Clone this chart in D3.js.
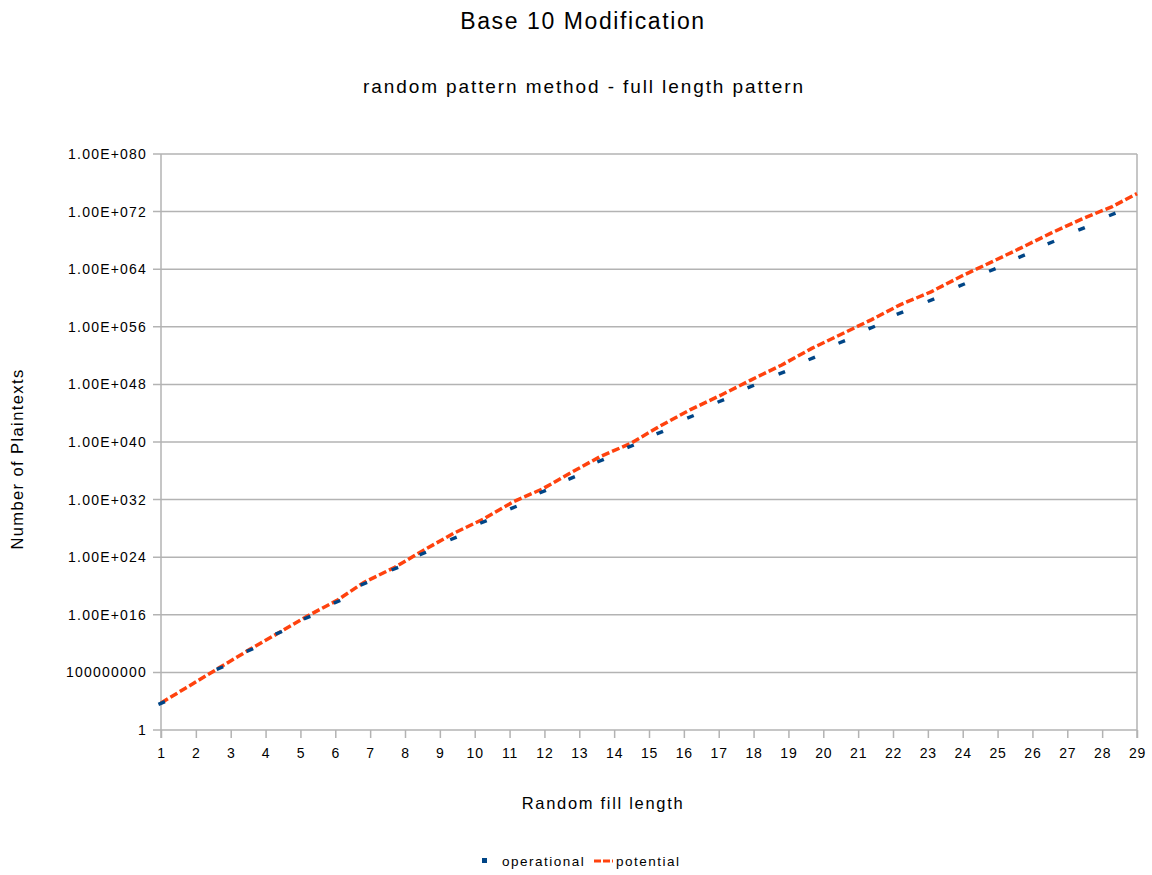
<!DOCTYPE html>
<html>
<head>
<meta charset="utf-8">
<script src="https://cdn.jsdelivr.net/npm/d3@7"></script>
<style>
  body { margin: 0; background: #fff; }
  text { font-family: "Liberation Sans", Arial, sans-serif; fill: #000; }
</style>
</head>
<body>
<script>
// values; y values kept as powers of ten (log10)
const opX   = [1.02, 2.69, 3.55, 4.38, 5.19, 6.05, 6.82, 7.71, 8.51, 9.39, 10.25, 11.11, 11.95, 12.78, 13.61, 14.47,
               15.31, 16.19, 17.06, 17.92, 18.81, 19.67, 20.53, 21.39, 22.2, 23.09, 23.97, 24.85, 25.69, 26.53, 27.41, 28.29];
const opExp = [3.75, 8.6, 11.1, 13.5, 15.6, 17.8, 20.3, 22.4, 24.5, 26.6, 28.9, 30.9, 33.1, 35.0, 37.4, 39.4,
               41.3, 43.5, 45.7, 47.7, 49.6, 51.6, 53.9, 55.9, 57.9, 59.7, 61.8, 63.9, 65.8, 67.7, 69.6, 71.6];

const potX   = [1, 2.69, 3.55, 4.38, 5.19, 6.05, 6.82, 7.71, 8.51, 9.39, 10.25, 11.11, 11.95, 12.78, 13.61, 14.47,
                15.31, 16.19, 17.06, 17.92, 18.81, 19.67, 20.53, 21.39, 22.2, 23.09, 23.97, 24.85, 25.69, 26.53, 27.41, 28.29, 29];
const potExp = [3.75, 8.7, 11.2, 13.5, 15.8, 18.0, 20.5, 22.6, 24.9, 27.3, 29.3, 31.7, 33.5, 35.8, 38.0, 39.8,
                42.2, 44.5, 46.5, 48.6, 50.7, 53.0, 55.0, 57.0, 59.05, 60.85, 63.05, 65.05, 67.0, 69.0, 70.95, 72.7, 74.5];

const xTicks = d3.range(1, 30);
const yTickExp = [0, 8, 16, 24, 32, 40, 48, 56, 64, 72, 80];
const yTickLabels = ["1", "100000000", "1.00E+016", "1.00E+024", "1.00E+032", "1.00E+040",
                     "1.00E+048", "1.00E+056", "1.00E+064", "1.00E+072", "1.00E+080"];

const title = "Base 10 Modification";
const subtitle = "random pattern method - full length pattern";
const xTitle = "Random fill length";
const yTitle = "Number of Plaintexts";
const seriesNames = ["operational", "potential"];
const colors = ["#004586", "#ff420e"];

const W = 1152, H = 875;
const plot = { left: 161, right: 1137, top: 154, bottom: 730 };
const font = "\"Liberation Sans\", Arial, sans-serif";

const svg = d3.select("body").append("svg")
  .attr("width", W)
  .attr("height", H);

const x = d3.scaleLinear().domain([1, 29]).range([plot.left, plot.right]);
const y = d3.scaleLog().domain([1, 1e80]).range([plot.bottom, plot.top]);

// titles
svg.append("text").attr("x", 583).attr("y", 29).attr("text-anchor", "middle")
  .style("font-size", "23px").style("letter-spacing", "1.6px").text(title);
svg.append("text").attr("x", 584).attr("y", 93).attr("text-anchor", "middle")
  .style("font-size", "19px").style("letter-spacing", "1.9px").text(subtitle);

// horizontal grid
svg.append("g")
  .selectAll("line")
  .data(yTickExp)
  .join("line")
  .attr("x1", plot.left - 8)
  .attr("x2", plot.right)
  .attr("y1", d => y(10 ** d))
  .attr("y2", d => y(10 ** d))
  .attr("stroke", "#b3b3b3")
  .attr("stroke-width", 1.5);

// y axis labels
const yAxis = d3.axisLeft(y)
  .tickValues(yTickExp.map(d => 10 ** d))
  .tickFormat((d, i) => yTickLabels[i])
  .tickSize(0)
  .tickPadding(14);
svg.append("g")
  .attr("transform", `translate(${plot.left},0)`)
  .call(yAxis)
  .call(g => g.select(".domain").remove())
  .call(g => g.selectAll("text").style("font-size", "14px").style("letter-spacing", "1.2px")
    .attr("fill", "#000").style("font-family", font));

// x axis
const xAxis = d3.axisBottom(x)
  .tickValues(xTicks)
  .tickFormat(d3.format("d"))
  .tickSize(8)
  .tickPadding(10);
svg.append("g")
  .attr("transform", `translate(0,${plot.bottom})`)
  .call(xAxis)
  .call(g => g.select(".domain").remove())
  .call(g => g.selectAll("line").attr("stroke", "#b3b3b3").attr("stroke-width", 1.5))
  .call(g => g.selectAll("text").style("font-size", "14px").style("letter-spacing", "0.8px")
    .attr("fill", "#000").style("font-family", font));

// frame lines (left axis, right edge)
svg.append("line").attr("x1", plot.left).attr("x2", plot.left)
  .attr("y1", plot.top).attr("y2", plot.bottom + 8)
  .attr("stroke", "#b3b3b3").attr("stroke-width", 1.5);
svg.append("line").attr("x1", plot.right).attr("x2", plot.right)
  .attr("y1", plot.top).attr("y2", plot.bottom + 8)
  .attr("stroke", "#b3b3b3").attr("stroke-width", 1.5);

// potential: dashed line
const potData = potX.map((d, i) => ({ x: d, v: 10 ** potExp[i] }));
const line = d3.line().x(d => x(d.x)).y(d => y(d.v));
svg.append("path")
  .datum(potData)
  .attr("d", line)
  .attr("fill", "none")
  .attr("stroke", colors[1])
  .attr("stroke-width", 3.5)
  .attr("stroke-dasharray", "8,3");

// operational: small dash markers
const opData = opX.map((d, i) => ({ x: d, v: 10 ** opExp[i] }));
svg.append("g")
  .selectAll("rect")
  .data(opData)
  .join("rect")
  .attr("x", -3.5)
  .attr("y", -1.7)
  .attr("width", 7)
  .attr("height", 3.4)
  .attr("fill", colors[0])
  .attr("transform", d => `translate(${x(d.x)},${y(d.v)}) rotate(-22)`);

// axis titles
svg.append("text").attr("x", 603).attr("y", 809).attr("text-anchor", "middle")
  .style("font-size", "16.5px").style("letter-spacing", "1.7px").text(xTitle);
svg.append("text")
  .attr("transform", "translate(23,459) rotate(-90)")
  .attr("text-anchor", "middle")
  .style("font-size", "16.5px").style("letter-spacing", "1.4px").text(yTitle);

// legend
const legend = svg.append("g").attr("transform", "translate(0,861)");
legend.append("rect").attr("x", 482).attr("y", -3).attr("width", 5).attr("height", 5).attr("fill", colors[0]);
legend.append("text").attr("x", 502).attr("y", 5).style("font-size", "13.5px").style("letter-spacing", "1.5px")
  .text(seriesNames[0]);
legend.append("line").attr("x1", 594).attr("x2", 613).attr("y1", 0).attr("y2", 0)
  .attr("stroke", colors[1]).attr("stroke-width", 3).attr("stroke-dasharray", "7,2");
legend.append("text").attr("x", 616).attr("y", 5).style("font-size", "13.5px").style("letter-spacing", "1.5px")
  .text(seriesNames[1]);
</script>
</body>
</html>
